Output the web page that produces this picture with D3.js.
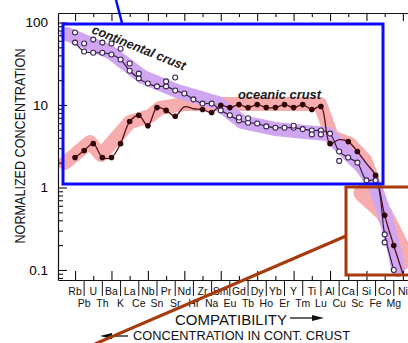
<!DOCTYPE html>
<html>
<head>
<meta charset="utf-8">
<script src="https://cdn.jsdelivr.net/npm/d3@7"></script>
<style>
  body { margin: 0; background: #fff; }
  svg { display: block; }
  text { font-family: "Liberation Sans", Arial, sans-serif; }
</style>
</head>
<body>
<div id="chart"></div>
<script>
// Elements along the compatibility axis (even index = top row, odd = bottom row)
var elements = ["Rb","Pb","U","Th","Ba","K","La","Ce","Nb","Sn","Pr","Sr","Nd","Hf","Zr","Na",
  "Sm","Eu","Gd","Tb","Dy","Ho","Yb","Er","Y","Tm","Ti","Lu","Al","Cu","Ca","Sc","Si","Fe",
  "Co","Mg","Ni"];

var yMajorTicks = [0.1, 1, 10, 100];

// Continental crust, connected open circles
var continental = [57, 44.5, 43, 43, 41, 35.6, 26, 21, 18.2, 16.8, 16.8, 15, 13.8, 11.7, 10.4,
  10.4, 8.6, 7.5, 6.5, 6.1, 5.97, 5.5, 5.3, 5.3, 5.3, 5.1, 4.9, 4.9, 4.5, 2.73, 2.31, 2.0,
  1.22, 1.22, 0.27, 0.10];

// Continental crust, extra (unconnected) open circles
var continentalAlt = [75.6, 55.6, 62, 57, 55.6, 48, 31.8, 24, null, null, 19.3, 21.5, null,
  null, null, null, null, null, 7.05, 6.9, null, null, null, null, 5.6, null, 4.4, 4.4, null,
  2.1, null, null, null, null, 0.216];

// Oceanic crust, filled circles
var oceanic = [2.31, 2.8, 3.4, 2.31, 2.31, 3.4, 6.3, 7.5, 5.6, 9.3, 8.6, 7.3, 9.5, 9.0, 8.8,
  8.1, 9.9, 9.3, 10.1, 9.3, 10.1, 9.3, 9.3, 10.1, 9.3, 10.1, 8.8, 9.6, 3.4, 3.8, 3.6, 2.73,
  1.95, 1.4, 0.46, 0.198, 0.09];
var oceanicNoMarker = [12, 13, 29, 32, 36];

// Shaded bands: [element index, value] along the band centre
var continentalBand = [[-0.88, 72.5], [3.84, 43.9], [7.47, 21.8], [11.2, 14.8], [15.7, 10.6],
  [18.34, 6.22], [21.96, 5.12], [25.25, 4.71], [27.78, 4.45], [29.65, 2.77], [31.51, 1.77],
  [32.94, 1.04], [34.04, 0.464], [35.14, 0.161], [35.47, 0.1]];
var oceanicBand = [[-1.1, 1.98], [1.65, 3.56], [2.85, 2.48], [6.04, 6.22], [8.24, 7.36],
  [9.33, 9.2], [12.08, 10.3], [26.9, 10.3], [27.56, 6.58], [28.2, 4.09], [30.2, 3.37],
  [31.85, 2.15], [32.6, 1.3]];
var oceanicBandLow = [[31.5, 0.86], [33.9, 0.49], [35.68, 0.2], [35.9, 0.125]];

var svgWidth = 408;
var svgHeight = 343;
var plot = { left: 58, top: 13, right: 412, bottom: 280 };

var svg = d3.select("#chart")
  .append("svg")
  .attr("width", svgWidth)
  .attr("height", svgHeight);

var x = d3.scaleLinear().domain([-1.87, 37]).range([plot.left, plot.right]);
var y = d3.scaleLog().domain([0.0756, 130.3]).range([plot.bottom, plot.top]);

// bands
var bandLine = d3.line().x(d => x(d[0])).y(d => y(d[1]));
function band(data, color, width) {
  svg.append("path")
    .datum(data)
    .attr("d", bandLine)
    .attr("fill", "none")
    .attr("stroke", color)
    .attr("stroke-width", width)
    .attr("stroke-linejoin", "round")
    .attr("stroke-linecap", "round");
}
band(oceanicBand, "#f7adad", 14);
band(oceanicBandLow, "#f7adad", 17);
band(continentalBand, "#d0a6f0", 14);

// lines
var contPts = continental.map((v, i) => [i, v]);
var oceanPts = oceanic.map((v, i) => [i, v]);
var curveLine = d3.line()
  .x(d => x(d[0]))
  .y(d => y(d[1]))
  .curve(d3.curveCatmullRom.alpha(0.5));

svg.append("path")
  .datum(oceanPts)
  .attr("d", curveLine)
  .attr("fill", "none")
  .attr("stroke", "#5a0f12")
  .attr("stroke-width", 1.3);

svg.append("path")
  .datum(contPts)
  .attr("d", curveLine)
  .attr("fill", "none")
  .attr("stroke", "#2a1838")
  .attr("stroke-width", 1.1);

// points
svg.selectAll(".ocean")
  .data(oceanPts.filter(d => oceanicNoMarker.indexOf(d[0]) < 0))
  .enter()
  .append("circle")
  .attr("cx", d => x(d[0]))
  .attr("cy", d => y(d[1]))
  .attr("r", 2.8)
  .attr("fill", "#2e0608");

var altPts = continentalAlt.map((v, i) => [i, v]).filter(d => d[1] != null);
svg.selectAll(".cont")
  .data(contPts.concat(altPts))
  .enter()
  .append("circle")
  .attr("cx", d => x(d[0]))
  .attr("cy", d => y(d[1]))
  .attr("r", 2.5)
  .attr("fill", "#fff")
  .attr("stroke", "#3a2255")
  .attr("stroke-width", 1.1);

// axes
var evenIdx = d3.range(0, elements.length, 2);
var bottomAxis = d3.axisBottom(x).tickValues(evenIdx).tickSizeInner(-9).tickSizeOuter(0).tickFormat("");
var topAxis = d3.axisTop(x).tickValues(evenIdx).tickSizeInner(-8).tickSizeOuter(0).tickFormat("");

var gb = svg.append("g").attr("transform", "translate(0," + plot.bottom + ")").call(bottomAxis);
var gt = svg.append("g").attr("transform", "translate(0," + plot.top + ")").call(topAxis);
gb.selectAll(".tick line").filter(d => d % 4 == 2).attr("y2", -4);
gt.selectAll(".tick line").filter(d => d % 4 == 2).attr("y2", 4);

var minorTicks = [];
[0.01, 0.1, 1, 10].forEach(function(dec) {
  d3.range(2, 10).forEach(function(m) {
    var v = +(dec * m).toPrecision(3);
    if (v >= 0.0756 && v <= 130.3 && yMajorTicks.indexOf(v) < 0) minorTicks.push(v);
  });
});
var gl = svg.append("g").attr("transform", "translate(" + plot.left + ",0)")
  .call(d3.axisLeft(y).tickValues(yMajorTicks).tickSizeInner(-9).tickSizeOuter(0)
    .tickPadding(10).tickFormat(d => d < 1 ? "0.1" : d3.format("d")(d)));
svg.append("g").attr("transform", "translate(" + plot.left + ",0)")
  .call(d3.axisLeft(y).tickValues(minorTicks).tickSizeInner(-5).tickSizeOuter(0).tickFormat(""))
  .select(".domain").remove();
gl.selectAll(".tick text").attr("font-size", 13.5).attr("font-family", "Liberation Sans");
svg.selectAll(".domain").attr("stroke", "#111").attr("stroke-width", 1.2);
svg.selectAll(".tick line").attr("stroke", "#111").attr("stroke-width", 1.1);

// element labels
svg.selectAll(".sep")
  .data(d3.range(1, elements.length, 2))
  .enter()
  .append("line")
  .attr("x1", d => x(d)).attr("x2", d => x(d))
  .attr("y1", plot.bottom).attr("y2", plot.bottom + 16)
  .attr("stroke", "#111").attr("stroke-width", 1);

svg.selectAll(".elab")
  .data(elements)
  .enter()
  .append("text")
  .attr("x", (d, i) => x(i))
  .attr("y", (d, i) => i % 2 == 0 ? plot.bottom + 15 : plot.bottom + 27)
  .attr("text-anchor", "middle")
  .attr("font-size", 10.5)
  .attr("fill", "#111")
  .text(d => d);

// titles
svg.append("text")
  .attr("transform", "translate(25,146) rotate(-90)")
  .attr("text-anchor", "middle")
  .attr("font-size", 15)
  .attr("textLength", 195)
  .attr("lengthAdjust", "spacingAndGlyphs")
  .attr("fill", "#111")
  .text("NORMALIZED CONCENTRATION");

svg.append("text")
  .attr("x", 175).attr("y", 325)
  .attr("font-size", 14)
  .attr("textLength", 112)
  .attr("lengthAdjust", "spacingAndGlyphs")
  .attr("fill", "#111")
  .text("COMPATIBILITY");

svg.append("text")
  .attr("x", 133).attr("y", 340)
  .attr("font-size", 12)
  .attr("textLength", 217)
  .attr("lengthAdjust", "spacingAndGlyphs")
  .attr("fill", "#111")
  .text("CONCENTRATION IN CONT. CRUST");

// arrows
svg.append("line").attr("x1", 290).attr("x2", 314).attr("y1", 318).attr("y2", 318)
  .attr("stroke", "#111").attr("stroke-width", 1.3);
svg.append("path").attr("d", "M312,315 L324,318 L312,321 Z").attr("fill", "#111");
svg.append("line").attr("x1", 110).attr("x2", 128).attr("y1", 336).attr("y2", 336)
  .attr("stroke", "#111").attr("stroke-width", 1.3);
svg.append("path").attr("d", "M112,333 L100,336 L112,339 Z").attr("fill", "#111");

// curve labels
svg.append("text")
  .attr("transform", "translate(91,33) rotate(22)")
  .attr("font-size", 13)
  .attr("font-weight", "bold")
  .attr("font-style", "italic")
  .attr("textLength", 100)
  .attr("lengthAdjust", "spacingAndGlyphs")
  .attr("fill", "#1a1a1a")
  .text("continental crust");

svg.append("text")
  .attr("x", 238).attr("y", 99)
  .attr("font-size", 13)
  .attr("font-weight", "bold")
  .attr("font-style", "italic")
  .attr("textLength", 83)
  .attr("lengthAdjust", "spacingAndGlyphs")
  .attr("fill", "#1a1a1a")
  .text("oceanic crust");

// highlight boxes
svg.append("rect")
  .attr("x", 63).attr("y", 24).attr("width", 320).attr("height", 160)
  .attr("fill", "none").attr("stroke", "#0a0aff").attr("stroke-width", 3);
svg.append("line").attr("x1", 116).attr("y1", 0).attr("x2", 122).attr("y2", 23)
  .attr("stroke", "#0a0aff").attr("stroke-width", 2.5);

svg.append("rect")
  .attr("x", 346).attr("y", 187).attr("width", 80).attr("height", 88)
  .attr("fill", "none").attr("stroke", "#a63a0c").attr("stroke-width", 3);
svg.append("line").attr("x1", 95).attr("y1", 344).attr("x2", 346).attr("y2", 236)
  .attr("stroke", "#a63a0c").attr("stroke-width", 3);
</script>
</body>
</html>
